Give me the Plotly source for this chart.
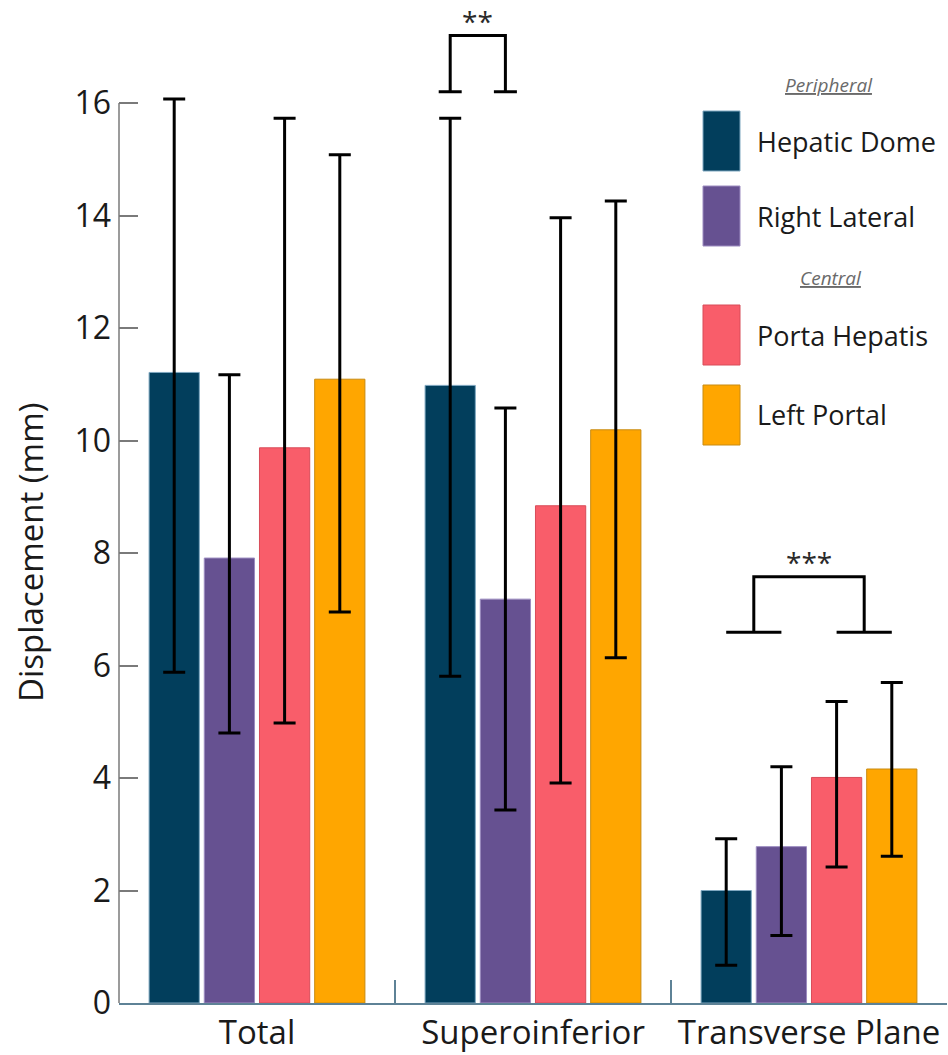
import plotly.graph_objects as go

# ---------------- data ----------------
categories = ["Total", "Superoinferior", "Transverse Plane"]
series_names = ["Hepatic Dome", "Right Lateral", "Porta Hepatis", "Left Portal"]
series_groups = ["Peripheral", "Peripheral", "Central", "Central"]

hepatic_dome_mean = [11.21, 10.98, 2.00]
hepatic_dome_upper = [16.07, 15.73, 2.92]
hepatic_dome_lower = [5.88, 5.81, 0.67]

right_lateral_mean = [7.91, 7.18, 2.78]
right_lateral_upper = [11.17, 10.58, 4.20]
right_lateral_lower = [4.80, 3.43, 1.20]

porta_hepatis_mean = [9.87, 8.84, 4.01]
porta_hepatis_upper = [15.73, 13.96, 5.36]
porta_hepatis_lower = [4.98, 3.91, 2.42]

left_portal_mean = [11.09, 10.19, 4.16]
left_portal_upper = [15.08, 14.26, 5.70]
left_portal_lower = [6.95, 6.14, 2.61]

y_ticks = [0, 2, 4, 6, 8, 10, 12, 14, 16]
y_title = "Displacement (mm)"

# significance brackets
sig_superoinferior = dict(cat=1, left=[0], right=[1], stars="**", top=17.2, feet=16.2)
sig_transverse = dict(cat=2, left=[0, 1], right=[2, 3], stars="***", top=7.58, feet=6.59)

# ---------------- style ----------------
colors = ["#023e5c", "#665191", "#f95d6a", "#ffa600"]
edge_colors = ["#7ea7c0", "#9c8cc0", "#d84c59", "#c88b12"]
FONT = "Open Sans"
TXT = "#1a1a1a"

BARGAP = 0.2
BARGROUPGAP = 0.09

means = [hepatic_dome_mean, right_lateral_mean, porta_hepatis_mean, left_portal_mean]
uppers = [hepatic_dome_upper, right_lateral_upper, porta_hepatis_upper, left_portal_upper]
lowers = [hepatic_dome_lower, right_lateral_lower, porta_hepatis_lower, left_portal_lower]

fig = go.Figure()
for i, name in enumerate(series_names):
    m, u, lo = means[i], uppers[i], lowers[i]
    fig.add_trace(go.Bar(
        name=name, x=categories, y=m,
        marker=dict(color=colors[i], line=dict(color=edge_colors[i], width=1)),
        error_y=dict(type="data", symmetric=False,
                     array=[uu - mm for uu, mm in zip(u, m)],
                     arrayminus=[mm - ll for mm, ll in zip(m, lo)],
                     color="black", thickness=3, width=11),
        showlegend=False,
    ))

n = len(series_names)
slot = (1 - BARGAP) / n
def bar_x(cat, idx):
    return cat + (idx - (n - 1) / 2) * slot

cap_half = 11.5 / 276.0
shapes = []
annotations = []
line_style = dict(color="black", width=3)
for sig in [sig_superoinferior, sig_transverse]:
    xs = []
    for side in ("left", "right"):
        bars = sig[side]
        xl = bar_x(sig["cat"], bars[0])
        xr = bar_x(sig["cat"], bars[-1])
        xc = (xl + xr) / 2
        if len(bars) == 1:
            xl, xr = xc - cap_half, xc + cap_half
        shapes.append(dict(type="line", xref="x", yref="y", x0=xl, x1=xr,
                           y0=sig["feet"], y1=sig["feet"], line=line_style))
        xs.append(xc)
    shapes.append(dict(type="path", xref="x", yref="y",
                       path=f"M {xs[0]} {sig['feet']} L {xs[0]} {sig['top']} L {xs[1]} {sig['top']} L {xs[1]} {sig['feet']}",
                       line=line_style))
    annotations.append(dict(x=(xs[0] + xs[1]) / 2, y=sig["top"], xref="x", yref="y",
                            text=sig["stars"], showarrow=False, yanchor="bottom", yshift=-6,
                            font=dict(family=FONT, size=28, color="#2a2a2a")))

# y axis line only from 0 to 16
shapes.append(dict(type="line", xref="paper", yref="y", x0=0, x1=0, y0=0, y1=y_ticks[-1],
                   line=dict(color="#7a7a7a", width=1.5)))

# ---------------- custom legend / title ----------------
PL, PW, PB, PH = 119, 828, 1003, 990
def px(x):
    return (x - PL) / PW
def py(y):
    return (PB - y) / PH

# y-axis title centred on the 0..16 axis span
annotations.append(dict(x=px(30), y=(y_ticks[0] + y_ticks[-1]) / 2, xref="paper", yref="y",
                        text=y_title, textangle=-90, showarrow=False,
                        xanchor="center", yanchor="middle",
                        font=dict(family=FONT, size=33, color=TXT)))

legend_rows = [111, 186, 305, 385]   # swatch top pixel
sw_h = 60
for i, name in enumerate(series_names):
    t = legend_rows[i]
    shapes.append(dict(type="rect", xref="paper", yref="paper",
                       x0=px(703), x1=px(740), y0=py(t + sw_h), y1=py(t),
                       fillcolor=colors[i], line=dict(color=edge_colors[i], width=1)))
    annotations.append(dict(x=px(755), y=py(t + sw_h / 2), xref="paper", yref="paper",
                            text=name, showarrow=False, xanchor="left", yanchor="middle",
                            font=dict(family=FONT, size=27, color=TXT)))
header_pos = {"Peripheral": (829, 85), "Central": (831, 278)}
for g in dict.fromkeys(series_groups):
    hx, hy = header_pos[g]
    annotations.append(dict(x=px(hx), y=py(hy), xref="paper", yref="paper",
                            text=f"<i><u>{g}</u></i>", showarrow=False,
                            xanchor="center", yanchor="middle",
                            font=dict(family=FONT, size=19, color="#6a6a6a")))

fig.update_layout(
    width=948, height=1055,
    margin=dict(l=119, r=1, t=13, b=52),
    paper_bgcolor="white", plot_bgcolor="white",
    barmode="group", bargap=BARGAP, bargroupgap=BARGROUPGAP,
    font=dict(family=FONT, color=TXT),
    shapes=shapes, annotations=annotations,
    xaxis=dict(
        showline=True, linecolor="#5e8296", linewidth=1.5,
        ticks="inside", tickson="boundaries", ticklen=23, tickcolor="#5e8296", tickwidth=1.5,
        tickfont=dict(family=FONT, size=33, color=TXT),
        showgrid=False, zeroline=False,
    ),
    yaxis=dict(
        range=[0, 17.6], tickmode="array", tickvals=y_ticks,
        ticks="inside", ticklen=19, tickcolor="#7a7a7a", tickwidth=1.5,
        tickfont=dict(family=FONT, size=32, color=TXT), ticklabelstandoff=7,
        showline=False, showgrid=False, zeroline=False,
    ),
)

fig.write_html("out.html")
